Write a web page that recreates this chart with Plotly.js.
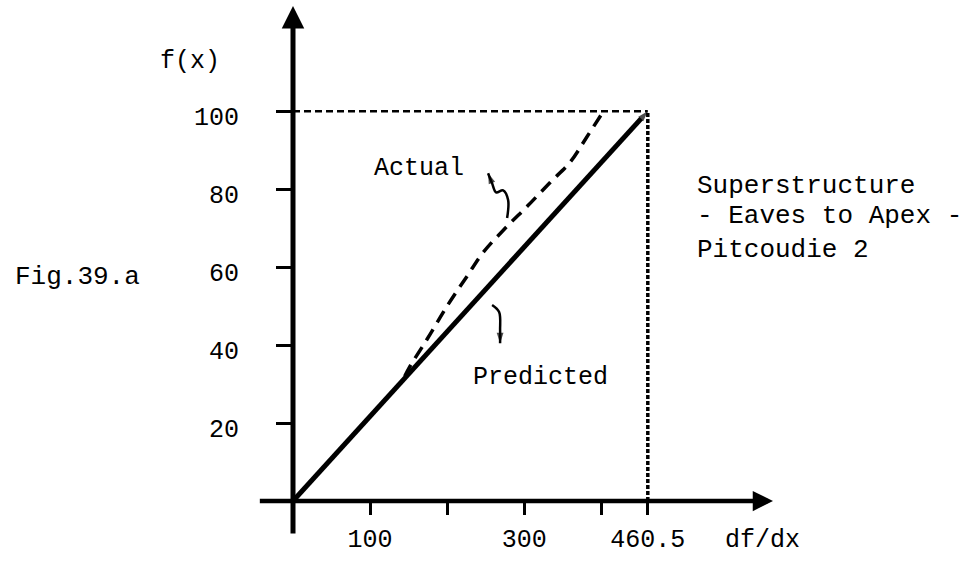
<!DOCTYPE html>
<html>
<head>
<meta charset="utf-8">
<script src="https://cdn.plot.ly/plotly-3.0.1.min.js"></script>
<style>html,body{margin:0;padding:0;background:#fff;}#chart{width:975px;height:562px;}</style>
</head>
<body>
<div id="chart"></div>
<script>
// ---- data ----
const predictedX = [0, 460.5];
const predictedY = [0, 100];
const actualX = [145, 152, 174, 200, 226, 247, 278, 304, 334, 360, 382, 403];
const actualY = [32, 34.6, 41.5, 50, 57.7, 63.8, 70.5, 75.6, 81.8, 87, 93.6, 100];
const xTickVals = [100, 200, 300, 400, 460.5];
const xTickText = ['100', '', '300', '', '460.5'];
const yTickVals = [20, 40, 60, 80, 100];
const yTickText = ['20', '40', '60', '80', '100'];
const apexX = 460.5;
const apexY = 100;
const xMax = 623;
const yMax = 127;
const xTail = -45;
const yTail = -8.7;

const FONT = '"Liberation Mono", "DejaVu Sans Mono", monospace';

// squiggly pointer paths (label pointers)
const actualPtrX = [277.9, 279.2, 272.7, 263.6, 258.4, 253.2];
const actualPtrY = [72.6, 77.2, 79.7, 79.2, 81.5, 84.1];
const predPtrX = [258.4, 267.5, 268.8, 268.8];
const predPtrY = [50.3, 48.5, 43.8, 40.5];

const arrowMarker = (n) => ({
  symbol: 'arrow', angleref: 'previous',
  size: Array.from({length: n}, (_, i) => i === n - 1 ? 11 : 0),
  color: '#000', line: {width: 0}
});

const traces = [
  { // reference dashed horizontal at f(x)=100
    x: [0, apexX], y: [apexY, apexY], mode: 'lines',
    line: {color: '#000', width: 2.5, dash: '7px,4px'}, hoverinfo: 'skip'
  },
  { // dotted vertical at 460.5
    x: [apexX, apexX], y: [0, apexY], mode: 'lines',
    line: {color: '#000', width: 3.5, dash: '4px,2px'}, hoverinfo: 'skip'
  },
  { // Predicted
    x: predictedX, y: predictedY, mode: 'lines+markers', name: 'Predicted',
    line: {color: '#000', width: 5},
    marker: arrowMarker(predictedX.length),
    cliponaxis: false
  },
  { // Actual
    x: actualX, y: actualY, mode: 'lines', name: 'Actual',
    line: {color: '#000', width: 3.5, dash: '13px,8px', shape: 'spline'}
  },
  {
    x: actualPtrX, y: actualPtrY, mode: 'lines+markers',
    line: {color: '#000', width: 2.5, shape: 'spline'},
    marker: arrowMarker(actualPtrX.length),
    hoverinfo: 'skip'
  },
  {
    x: predPtrX, y: predPtrY, mode: 'lines+markers',
    line: {color: '#000', width: 2.5, shape: 'spline'},
    marker: arrowMarker(predPtrX.length),
    hoverinfo: 'skip'
  }
];

const layout = {
  width: 975, height: 562,
  margin: {l: 293, r: 202, t: 6, b: 61},
  paper_bgcolor: '#fff', plot_bgcolor: '#fff',
  showlegend: false,
  font: {family: FONT, color: '#000', size: 25},
  xaxis: {
    range: [0, xMax], showgrid: false, zeroline: false, showline: false,
    tickmode: 'array', tickvals: xTickVals, ticktext: xTickText,
    ticks: 'outside', ticklen: 13, tickwidth: 3, tickcolor: '#000',
    ticklabelstandoff: 2,
    tickfont: {family: FONT, size: 25, color: '#000'}
  },
  yaxis: {
    range: [0, yMax], showgrid: false, zeroline: false, showline: false,
    tickmode: 'array', tickvals: yTickVals, ticktext: yTickText,
    ticks: 'outside', ticklen: 16, tickwidth: 3, tickcolor: '#000',
    ticklabelstandoff: 32, ticklabelshift: 5,
    tickfont: {family: FONT, size: 25, color: '#000'}
  },
  annotations: [
    // y axis with arrow
    {x: 0, y: yMax, xref: 'x', yref: 'y', ax: 0, ay: yTail, axref: 'x', ayref: 'y',
     text: '', showarrow: true, arrowhead: 2, arrowsize: 0.9, arrowwidth: 5, arrowcolor: '#000'},
    // x axis with arrow
    {x: xMax, y: 0, xref: 'x', yref: 'y', ax: xTail, ay: 0, axref: 'x', ayref: 'y',
     text: '', showarrow: true, arrowhead: 2, arrowsize: 0.9, arrowwidth: 4.5, arrowcolor: '#000'},
    {x: -0.215, y: 1.0, xref: 'paper', yref: 'paper', text: 'f(x)', showarrow: false,
     xanchor: 'center', yanchor: 'middle', yshift: -55, font: {size: 25}},
    {x: 609, y: -0.079, xref: 'x', yref: 'paper', text: 'df/dx', showarrow: false,
     xanchor: 'center', yanchor: 'middle', font: {size: 25}},
    {x: 163.6, y: 85.4, xref: 'x', yref: 'y', text: 'Actual', showarrow: false,
     xanchor: 'center', yanchor: 'middle', font: {size: 25}},
    {x: 320.8, y: 31.8, xref: 'x', yref: 'y', text: 'Predicted', showarrow: false,
     xanchor: 'center', yanchor: 'middle', font: {size: 25}},
    {x: -0.45, y: 0.452, xref: 'paper', yref: 'paper', text: 'Fig.39.a', showarrow: false,
     xanchor: 'center', yanchor: 'middle', font: {size: 26}},
    {x: 0.8375, y: 0.636, xref: 'paper', yref: 'paper', text: 'Superstructure', showarrow: false,
     xanchor: 'left', yanchor: 'middle', font: {size: 26}},
    {x: 0.8375, y: 0.576, xref: 'paper', yref: 'paper', text: '- Eaves to Apex -', showarrow: false,
     xanchor: 'left', yanchor: 'middle', font: {size: 26}},
    {x: 0.8375, y: 0.507, xref: 'paper', yref: 'paper', text: 'Pitcoudie 2', showarrow: false,
     xanchor: 'left', yanchor: 'middle', font: {size: 26}}
  ]
};

Plotly.newPlot('chart', traces, layout, {displayModeBar: false, staticPlot: true});
</script>
</body>
</html>
